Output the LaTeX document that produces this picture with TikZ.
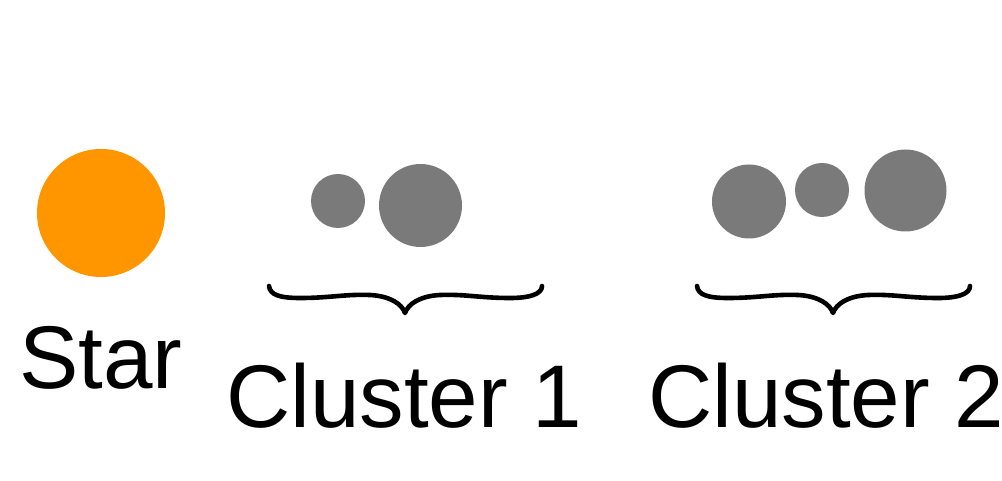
\documentclass[tikz,border=0pt]{standalone}
\usepackage{fontspec}
\setmainfont{Liberation Sans}
\definecolor{starorange}{HTML}{FF9600}
\definecolor{planetgray}{HTML}{7A7A7A}
\begin{document}
\begin{tikzpicture}[x=1pt,y=-1pt,
  star/.style={circle,fill=starorange,inner sep=0pt,minimum size=#1},
  planet/.style={circle,fill=planetgray,inner sep=0pt,minimum size=#1},
  lbl/.style={anchor=base west,inner sep=0pt,font=\fontsize{89}{89}\selectfont},
  bracepath/.style={line width=4.6pt,line cap=round,line join=round}]
\useasboundingbox (0,0) rectangle (1002,481);
\clip (0,0) rectangle (1002,481);
% star
\node[star=128pt] (s) at (101,213) {};
\node[lbl] (slbl) at (19,388) {Star};
% cluster 1
\node[planet=54pt] (c1a) at (338,201) {};
\node[planet=83pt] (c1b) at (420.5,205.5) {};
\node[lbl] (c1lbl) at (226,427) {Cluster 1};
% cluster 2
\node[planet=74pt] (c2a) at (749,201.5) {};
\node[planet=54pt] (c2b) at (822,190) {};
\node[planet=82pt] (c2c) at (905.5,190.5) {};
\node[lbl] (c2lbl) at (648,427) {Cluster 2};
% braces
\foreach \ox in {0,428}{
  \draw[bracepath,xshift=\ox pt]
    (269,286) .. controls (270,295) and (280,298) .. (300,298)
    .. controls (330,298) and (345,294) .. (370,295)
    .. controls (390,296) and (402,304) .. (405,313)
    .. controls (408,304) and (420,296) .. (440,295)
    .. controls (465,294) and (480,298) .. (510,298)
    .. controls (530,298) and (542,294) .. (542,286);
}
\end{tikzpicture}
\end{document}
